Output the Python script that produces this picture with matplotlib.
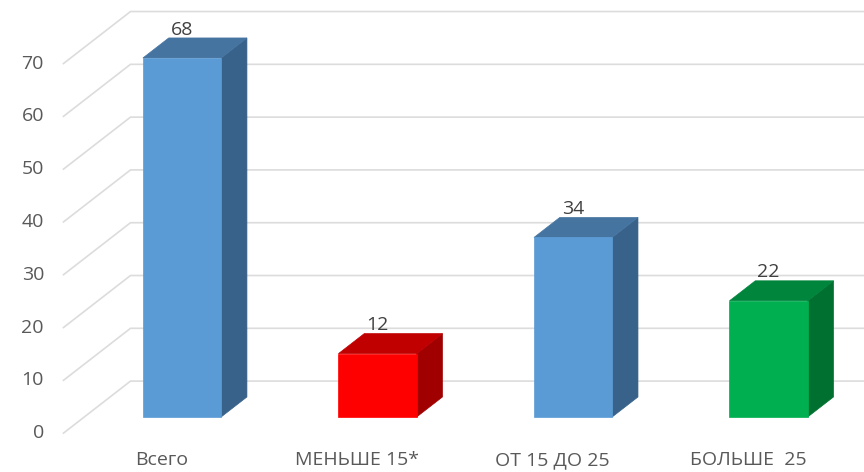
import matplotlib
matplotlib.use("Agg")
import matplotlib.pyplot as plt
from matplotlib.patches import Polygon

# chart data
categories = ["Всего", "МЕНЬШЕ 15*", "ОТ 15 ДО 25", "БОЛЬШЕ  25"]
values = [68, 12, 34, 22]
y_ticks = [0, 10, 20, 30, 40, 50, 60, 70]

# face colours per bar: front, top, side
front_colors = ["#5B9BD5", "#FF0000", "#5B9BD5", "#00B050"]
top_colors = ["#4674A1", "#C00000", "#4674A1", "#00853D"]
side_colors = ["#38628A", "#A00000", "#38628A", "#007030"]

plt.rcParams["font.family"] = ["Open Sans", "DejaVu Sans"]

fig = plt.figure(figsize=(8.64, 4.72), dpi=100)
ax = fig.add_axes([0, 0, 1, 1])
ax.set_xlim(-0.931, 3.488)
ax.set_ylim(-10.42, 78.98)
ax.axis("off")

# oblique depth: full floor depth in data units
DX, DY = 0.3427, 9.85
T_FLOOR = -0.31   # floor front edge, relative to bar front
T_WALL = 0.69     # back wall
T_BACK = 0.385    # bar back face
WIDTH = 0.4
grid_color = "#DCDCDC"

def shift(x, y, t):
    return x + DX * t, y + DY * t

# gridlines: diagonal on the left side wall and horizontal on the back wall
for v in y_ticks:
    x0, y0 = shift(-0.5, v, T_FLOOR)
    x1, y1 = shift(-0.5, v, T_WALL)
    x2, y2 = shift(3.5, v, T_WALL)
    ax.plot([x0, x1, x2], [y0, y1, y2], color=grid_color, lw=1.2,
            solid_joinstyle="miter", zorder=1)
    ax.text(x0 - 0.1, y0, str(v), ha="right", va="center",
            fontsize=14, color="#595959")

# bars
for i, (v, fc, tc, sc) in enumerate(zip(values, front_colors, top_colors, side_colors)):
    left, right = i - WIDTH / 2, i + WIDTH / 2
    bl = shift(left, v, T_BACK)
    br = shift(right, v, T_BACK)
    br0 = shift(right, 0, T_BACK)
    ax.add_patch(Polygon([(right, 0), br0, br, (right, v)], closed=True,
                         facecolor=sc, edgecolor=sc, lw=0.5, zorder=3))
    ax.add_patch(Polygon([(left, v), (right, v), br, bl], closed=True,
                         facecolor=tc, edgecolor=tc, lw=0.5, zorder=3))
    ax.bar(i, v, width=WIDTH, color=fc, edgecolor=fc, lw=0.5, zorder=4)
    ax.text(i, v + DY * T_BACK + 1.6, str(v), ha="center", va="center",
            fontsize=14, color="#404040", zorder=5)

# category labels under the floor front edge
for i, name in enumerate(categories):
    x, _ = shift(i, 0, T_FLOOR)
    ax.text(x, -8.1, name, ha="center", va="center", fontsize=14, color="#595959")

plt.savefig("out.png", dpi=100)
